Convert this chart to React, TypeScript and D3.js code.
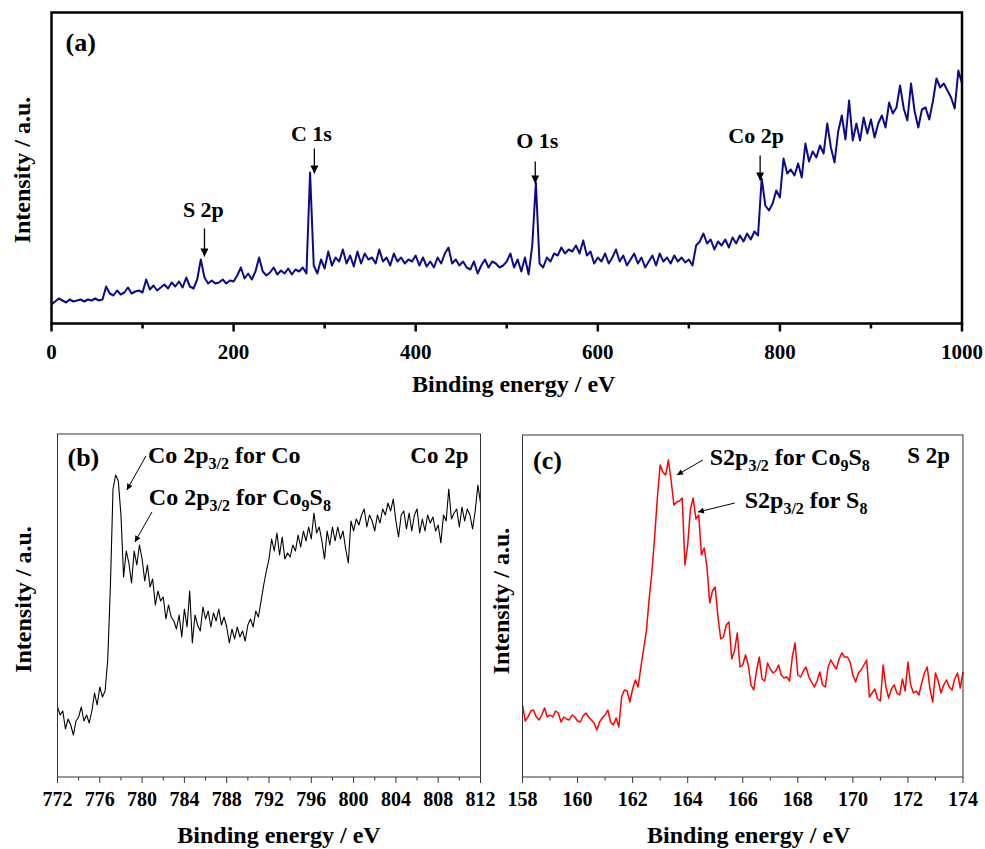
import React from "react";
import * as d3 from "d3";

const FONT = '"Liberation Serif", "Times New Roman", Times, serif';

// ---- (a) survey spectrum: 0–1000 eV, 4 eV steps ----
const surveyStart = 0;
const surveyStep = 4;
const surveyCounts = [
  19, 22, 25, 23, 21, 24, 22, 23, 24, 22,
  24, 23, 25, 23, 24, 37, 30, 28, 33, 29,
  31, 36, 30, 32, 33, 31, 44, 34, 38, 33,
  36, 39, 35, 41, 37, 42, 36, 46, 37, 35,
  44, 64, 46, 40, 43, 40, 41, 44, 40, 43,
  42, 48, 56, 45, 50, 44, 52, 66, 52, 48,
  51, 56, 49, 53, 50, 55, 49, 54, 52, 56,
  50, 151, 58, 50, 64, 55, 72, 58, 66, 62,
  74, 60, 68, 57, 72, 60, 70, 64, 66, 60,
  74, 62, 66, 58, 70, 62, 66, 60, 64, 62,
  68, 58, 66, 57, 62, 56, 66, 60, 70, 76,
  60, 64, 58, 62, 56, 54, 62, 50, 58, 64,
  56, 62, 60, 56, 58, 62, 70, 56, 64, 52,
  66, 49, 78, 141, 60, 56, 66, 62, 70, 68,
  76, 70, 74, 72, 78, 70, 83, 68, 72, 60,
  66, 62, 70, 60, 66, 74, 62, 68, 58, 64,
  70, 60, 66, 56, 62, 68, 58, 70, 62, 66,
  60, 68, 62, 66, 61, 64, 58, 78, 82, 90,
  80, 84, 74, 82, 78, 84, 76, 86, 80, 88,
  82, 90, 84, 92, 88, 145, 118, 113, 120, 133,
  126, 165, 150, 154, 148, 160, 146, 180, 162, 172,
  166, 178, 170, 200, 176, 161, 192, 208, 184, 223,
  183, 200, 183, 206, 190, 204, 186, 200, 208, 196,
  221, 210, 216, 238, 215, 203, 240, 212, 196, 214,
  216, 204, 222, 245, 236, 240, 233, 226, 215, 253,
  240,
];
const surveyYMax = 311;
const surveyMajorTicks = [0, 200, 400, 600, 800, 1000];
const surveyMinorTicks = [100, 300, 500, 700, 900];
const surveyPeaks = [
  { label: "S 2p", textEv: 166.8, textY: 107, arrowEv: 168, from: 95, to: 67 },
  { label: "C 1s", textEv: 285.4, textY: 183, arrowEv: 288.7, from: 175, to: 150 },
  { label: "O 1s", textEv: 533.5, textY: 176, arrowEv: 531.3, from: 162, to: 140 },
  { label: "Co 2p", textEv: 773.9, textY: 181, arrowEv: 778.3, from: 168, to: 143 },
];

// ---- (b) Co 2p region: 772–812 eV, 0.25 eV steps ----
const co2pStart = 772;
const co2pStep = 0.25;
const co2pCounts = [
  70, 62, 66, 48, 58, 52, 42, 56,
  60, 70, 56, 62, 54, 66, 84, 72,
  90, 80, 86, 117, 190, 288, 302, 296,
  262, 200, 226, 214, 194, 226, 212, 232,
  218, 196, 212, 190, 198, 172, 186, 176,
  180, 158, 172, 160, 156, 148, 162, 140,
  168, 150, 186, 134, 162, 152, 146, 170,
  158, 166, 150, 164, 156, 168, 152, 160,
  150, 134, 148, 138, 150, 140, 146, 136,
  152, 158, 150, 166, 160, 176, 192, 206,
  218, 238, 226, 244, 222, 240, 218, 224,
  220, 232, 226, 242, 230, 246, 236, 250,
  238, 264, 244, 250, 236, 218, 246, 232,
  250, 236, 250, 238, 246, 228, 214, 256,
  246, 258, 252, 262, 268, 250, 262, 256,
  246, 262, 254, 268, 262, 274, 266, 278,
  256, 240, 262, 266, 248, 264, 246, 262,
  268, 244, 258, 246, 262, 254, 260, 246,
  252, 234, 262, 256, 288, 258, 264, 268,
  250, 270, 256, 268, 262, 248, 266, 292,
  274,
];
const co2pYMax = 343;
const co2pMajorTicks = [772, 776, 780, 784, 788, 792, 796, 800, 804, 808, 812];
const co2pMinorTicks = [774, 778, 782, 786, 790, 794, 798, 802, 806, 810];

// ---- (c) S 2p region: 158–174 eV, 0.1 eV steps ----
const s2pStart = 158;
const s2pStep = 0.1;
const s2pCounts = [
  72, 56, 60, 66, 67, 60, 57, 62, 69, 60,
  62, 60, 66, 64, 55, 60, 58, 57, 62, 60,
  56, 55, 61, 64, 60, 57, 54, 47, 55, 59,
  62, 67, 55, 52, 59, 50, 80, 87, 86, 75,
  88, 97, 90, 110, 128, 146, 178, 205, 240, 280,
  312, 305, 302, 317, 296, 272, 275, 276, 279, 212,
  232, 268, 279, 258, 262, 222, 229, 210, 174, 186,
  190, 160, 138, 140, 152, 155, 118, 126, 144, 110,
  112, 122, 112, 92, 87, 106, 120, 98, 96, 114,
  108, 104, 106, 112, 102, 99, 100, 96, 120, 134,
  102, 100, 106, 110, 100, 95, 90, 96, 105, 92,
  90, 110, 117, 112, 108, 118, 124, 120, 120, 115,
  102, 95, 104, 107, 112, 117, 80, 84, 88, 78,
  76, 112, 90, 79, 88, 92, 84, 82, 98, 86,
  115, 92, 84, 86, 82, 94, 104, 110, 88, 75,
  104, 96, 84, 92, 97, 90, 87, 98, 104, 89,
  105,
];
const s2pYMax = 342;
const s2pMajorTicks = [158, 160, 162, 164, 166, 168, 170, 172, 174];
const s2pMinorTicks = [159, 161, 163, 165, 167, 169, 171, 173];

type Part = { t: string; sub?: boolean };
const co2pNotes = [
  {
    parts: [{ t: "Co 2p" }, { t: "3/2", sub: true }, { t: " for Co" }] as Part[],
    textEv: 780.55, textY: 314,
    tail: [780.36, 321], tip: [778.56, 287],
  },
  {
    parts: [
      { t: "Co 2p" }, { t: "3/2", sub: true }, { t: " for Co" },
      { t: "9", sub: true }, { t: "S" }, { t: "8", sub: true },
    ] as Part[],
    textEv: 780.64, textY: 272,
    tail: [780.93, 265], tip: [779.32, 235],
  },
];
const s2pNotes = [
  {
    parts: [
      { t: "S2p" }, { t: "3/2", sub: true }, { t: " for Co" },
      { t: "9", sub: true }, { t: "S" }, { t: "8", sub: true },
    ] as Part[],
    textEv: 164.8, textY: 312,
    tail: [164.55, 317], tip: [163.61, 302],
  },
  {
    parts: [{ t: "S2p" }, { t: "3/2", sub: true }, { t: " for S" }, { t: "8", sub: true }] as Part[],
    textEv: 166.07, textY: 269,
    tail: [165.71, 274], tip: [164.37, 265],
  },
];

const toSeries = (start: number, step: number, vals: number[]) =>
  vals.map((v, i) => [start + i * step, v] as [number, number]);

function RichText({ x, y, parts, size, subSize }: { x: number; y: number; parts: Part[]; size: number; subSize: number }) {
  const shift = 6;
  let prevSub = false;
  return (
    <text x={x} y={y} fontFamily={FONT} fontWeight="bold" fontSize={size} fill="#000" style={{ whiteSpace: "pre" }}>
      {parts.map((p, i) => {
        const isSub = !!p.sub;
        const dy = isSub === prevSub ? 0 : isSub ? shift : -shift;
        prevSub = isSub;
        return (
          <tspan key={i} dy={dy} fontSize={isSub ? subSize : size}>
            {p.t}
          </tspan>
        );
      })}
    </text>
  );
}

type PanelProps = {
  left: number; right: number; top: number; bottom: number;
  xDomain: [number, number]; yMax: number;
  series: [number, number][];
  color: string; lineWidth: number;
  frameWidth: number; frameColor: string;
  majors: number[]; minors: number[];
  majorLen: number; minorLen: number;
  tickSize: number; tickBaseline: number;
  titleDx: number; titleBaseline: number;
  yTitleX: number; yTitleDy: number;
  children?: (x: d3.ScaleLinear<number, number>, y: d3.ScaleLinear<number, number>) => React.ReactNode;
};

function Panel(p: PanelProps) {
  const x = d3.scaleLinear().domain(p.xDomain).range([p.left, p.right]);
  const y = d3.scaleLinear().domain([0, p.yMax]).range([p.bottom, p.top]);
  const path = d3
    .line<[number, number]>()
    .x((d) => x(d[0]))
    .y((d) => y(d[1]))(p.series) as string;
  const cx = (p.left + p.right) / 2;
  const cy = (p.top + p.bottom) / 2;
  return (
    <g>
      <path d={path} fill="none" stroke={p.color} strokeWidth={p.lineWidth} strokeLinejoin="round" />
      <rect
        x={p.left} y={p.top} width={p.right - p.left} height={p.bottom - p.top}
        fill="none" stroke={p.frameColor} strokeWidth={p.frameWidth}
      />
      {p.majors.map((t) => (
        <line key={"M" + t} x1={x(t)} x2={x(t)} y1={p.bottom} y2={p.bottom + p.majorLen}
          stroke={p.frameColor} strokeWidth={p.frameWidth} />
      ))}
      {p.minors.map((t) => (
        <line key={"m" + t} x1={x(t)} x2={x(t)} y1={p.bottom} y2={p.bottom + p.minorLen}
          stroke={p.frameColor} strokeWidth={p.frameWidth} />
      ))}
      {p.majors.map((t) => (
        <text key={"L" + t} x={x(t)} y={p.bottom + p.tickBaseline} textAnchor="middle"
          fontFamily={FONT} fontWeight="bold" fontSize={p.tickSize} fill="#000">
          {t}
        </text>
      ))}
      <text x={cx + p.titleDx} y={p.bottom + p.titleBaseline} textAnchor="middle"
        fontFamily={FONT} fontWeight="bold" fontSize={24} fill="#000">
        Binding energy / eV
      </text>
      <text transform={`translate(${p.yTitleX},${cy + p.yTitleDy}) rotate(-90)`} textAnchor="middle"
        fontFamily={FONT} fontWeight="bold" fontSize={24} fill="#000">
        Intensity / a.u.
      </text>
      {p.children && p.children(x, y)}
    </g>
  );
}

export default function App() {
  const survey = toSeries(surveyStart, surveyStep, surveyCounts);
  const co2p = toSeries(co2pStart, co2pStep, co2pCounts);
  const s2p = toSeries(s2pStart, s2pStep, s2pCounts);

  return (
    <svg width={985} height={849} style={{ position: "absolute", left: 0, top: 0, background: "#fff" }}>
      <defs>
        <marker id="headBig" viewBox="0 0 10 10" refX={10} refY={5} markerUnits="userSpaceOnUse"
          markerWidth={11} markerHeight={8} orient="auto">
          <path d="M0,0 L10,5 L0,10 z" fill="#000" />
        </marker>
        <marker id="headSmall" viewBox="0 0 10 10" refX={10} refY={5} markerUnits="userSpaceOnUse"
          markerWidth={8} markerHeight={6} orient="auto">
          <path d="M0,0 L10,5 L0,10 z" fill="#000" />
        </marker>
      </defs>
      <rect x={0} y={0} width={985} height={849} fill="#fff" />

      {/* (a) survey */}
      <Panel
        left={51.5} right={962} top={12.5} bottom={323.5}
        xDomain={[0, 1000]} yMax={surveyYMax} series={survey}
        color="#0b0b8a" lineWidth={2}
        frameWidth={2.5} frameColor="#000"
        majors={surveyMajorTicks} minors={surveyMinorTicks}
        majorLen={8} minorLen={5}
        tickSize={21} tickBaseline={35}
        titleDx={7} titleBaseline={68}
        yTitleX={30} yTitleDy={2}
      >
        {(x, y) => (
          <g>
            <text x={x(0) + 14} y={y(surveyYMax) + 38} fontFamily={FONT} fontWeight="bold" fontSize={26}>(a)</text>
            {surveyPeaks.map((pk) => (
              <g key={pk.label}>
                <text x={x(pk.textEv)} y={y(pk.textY)} textAnchor="middle" fontFamily={FONT}
                  fontWeight="bold" fontSize={22}>{pk.label}</text>
                <line x1={x(pk.arrowEv)} x2={x(pk.arrowEv)} y1={y(pk.from)} y2={y(pk.to)}
                  stroke="#000" strokeWidth={1.3} markerEnd="url(#headBig)" />
              </g>
            ))}
          </g>
        )}
      </Panel>

      {/* (b) Co 2p */}
      <Panel
        left={57.5} right={480.5} top={434} bottom={777}
        xDomain={[772, 812]} yMax={co2pYMax} series={co2p}
        color="#000" lineWidth={1.1}
        frameWidth={1} frameColor="#333"
        majors={co2pMajorTicks} minors={co2pMinorTicks}
        majorLen={6} minorLen={3.5}
        tickSize={20} tickBaseline={29}
        titleDx={10} titleBaseline={66}
        yTitleX={31} yTitleDy={-6}
      >
        {(x, y) => (
          <g>
            <text x={x(772) + 10} y={y(co2pYMax) + 32} fontFamily={FONT} fontWeight="bold" fontSize={26}>(b)</text>
            <text x={x(812) - 12} y={y(co2pYMax) + 29} textAnchor="end" fontFamily={FONT} fontWeight="bold" fontSize={23}>Co 2p</text>
            {co2pNotes.map((n, i) => (
              <g key={i}>
                <RichText x={x(n.textEv)} y={y(n.textY)} parts={n.parts} size={24} subSize={16} />
                <line x1={x(n.tail[0])} y1={y(n.tail[1])} x2={x(n.tip[0])} y2={y(n.tip[1])}
                  stroke="#000" strokeWidth={1} markerEnd="url(#headSmall)" />
              </g>
            ))}
          </g>
        )}
      </Panel>

      {/* (c) S 2p */}
      <Panel
        left={522.5} right={963} top={435} bottom={777}
        xDomain={[158, 174]} yMax={s2pYMax} series={s2p}
        color="#ff0000" lineWidth={1.5}
        frameWidth={1} frameColor="#333"
        majors={s2pMajorTicks} minors={s2pMinorTicks}
        majorLen={6} minorLen={3.5}
        tickSize={20} tickBaseline={29}
        titleDx={6} titleBaseline={66}
        yTitleX={509} yTitleDy={-5}
      >
        {(x, y) => (
          <g>
            <text x={x(158) + 10.5} y={y(s2pYMax) + 34} fontFamily={FONT} fontWeight="bold" fontSize={26}>(c)</text>
            <text x={x(174) - 13} y={y(s2pYMax) + 28} textAnchor="end" fontFamily={FONT} fontWeight="bold" fontSize={23}>S 2p</text>
            {s2pNotes.map((n, i) => (
              <g key={i}>
                <RichText x={x(n.textEv)} y={y(n.textY)} parts={n.parts} size={24} subSize={16} />
                <line x1={x(n.tail[0])} y1={y(n.tail[1])} x2={x(n.tip[0])} y2={y(n.tip[1])}
                  stroke="#000" strokeWidth={1} markerEnd="url(#headSmall)" />
              </g>
            ))}
          </g>
        )}
      </Panel>
    </svg>
  );
}
